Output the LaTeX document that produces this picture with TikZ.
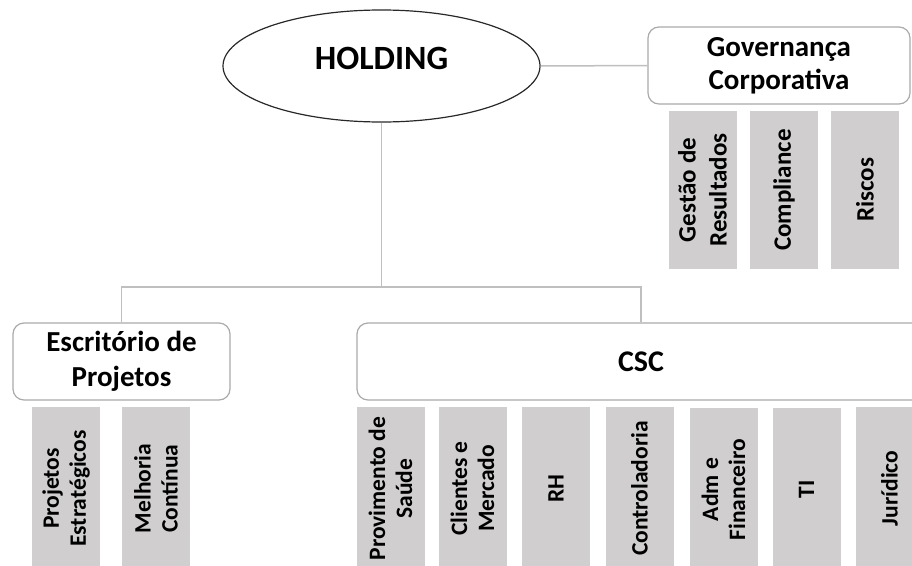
\documentclass[tikz,border=0pt]{standalone}
\usepackage{fontspec}
\setmainfont{Carlito}
\usetikzlibrary{shapes.geometric}
\definecolor{boxgray}{RGB}{208,206,206}
\definecolor{linegray}{RGB}{191,191,191}
\definecolor{edgegray}{RGB}{170,170,170}
\definecolor{ellline}{RGB}{40,40,40}
\begin{document}
\begin{tikzpicture}[x=1pt,y=-1pt,
  mainbox/.style={draw=edgegray, line width=1.2pt, rounded corners=11pt, fill=white,
    font=\bfseries\fontsize{29}{35}\selectfont, align=center, inner sep=0pt,
    minimum height=77pt},
  subbox/.style={fill=boxgray, rotate=90, minimum height=68pt, inner sep=0pt,
    font=\bfseries\fontsize{23.5}{27}\selectfont, align=center},
  govsub/.style={subbox, minimum width=158pt,
    font=\bfseries\fontsize{25}{31}\selectfont},
  conn/.style={draw=linegray, line width=1.5pt}]
\useasboundingbox (0,0) rectangle (912,565);
\clip (0,0) rectangle (912,565);

% Holding
\node[draw=ellline, line width=1.2pt, ellipse, minimum width=317pt, minimum height=112pt,
  inner sep=0pt, font=\bfseries\fontsize{34}{40}\selectfont] (holding) at (381.5,66)
  {\raisebox{15pt}{HOLDING}};

% Governanca
\node[mainbox, minimum width=262pt] (gov) at (779,65.5) {\raisebox{-2pt}{Governança}\\Corporativa};
\node[govsub] (g1) at (702.5,190) {Gestão de\\Resultados};
\node[govsub] (g2) at (784,190) {Compliance};
\node[govsub] (g3) at (865,190) {Riscos};

% Escritorio
\node[mainbox, minimum width=217pt] (esc) at (121.5,361.5) {Escritório de\\Projetos};
\node[subbox, minimum width=163pt] (e1) at (66,488.5) {Projetos\\Estratégicos};
\node[subbox, minimum width=163pt] (e2) at (156,488.5) {Melhoria\\Contínua};

% CSC
\node[mainbox, minimum width=568pt, font=\bfseries\fontsize{30}{35}\selectfont] (csc) at (641,361.5) {CSC};
\node[subbox, minimum width=163pt] (c1) at (390.5,488.5) {Provimento de\\Saúde};
\node[subbox, minimum width=163pt] (c2) at (472.5,488.5) {Clientes e\\Mercado};
\node[subbox, minimum width=163pt] (c3) at (556,488.5) {RH};
\node[subbox, minimum width=163pt] (c4) at (639.5,488.5) {Controladoria};
\node[subbox, minimum width=163pt] (c5) at (723.5,489.5) {Adm e\\Financeiro};
\node[subbox, minimum width=163pt] (c6) at (806.5,489.5) {TI};
\node[subbox, minimum width=163pt] (c7) at (889.5,488.5) {Jurídico};

% connectors
\coordinate (bus) at (381.5,287);
\draw[conn] (holding.east) -- (gov.west);
\draw[conn] (holding.south) -- (bus);
\draw[conn] (esc.north) |- (bus) -| (csc.north);
\end{tikzpicture}
\end{document}
